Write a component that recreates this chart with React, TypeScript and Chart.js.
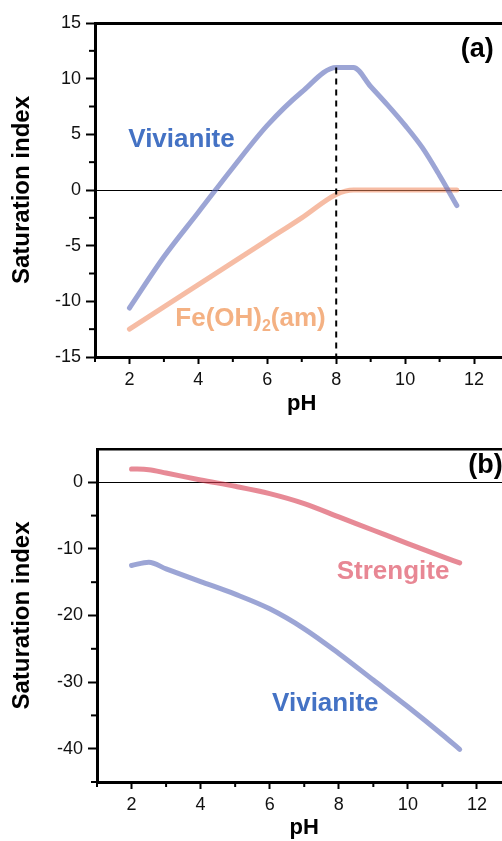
import React, { useEffect, useRef } from 'react';
import { Chart, registerables } from 'chart.js';

Chart.register(...registerables);

// ---------- data ----------
// Panel (a)
const phA = [2, 3, 4, 5, 6, 7, 8, 8.5, 9, 9.5, 10, 10.5, 11, 11.5];
const vivianiteA = [-10.6, -6.0, -2.0, 2.0, 5.8, 8.8, 11.0, 11.0, 9.3, 7.6, 5.8, 3.8, 1.3, -1.4];
const feOH2A = [-12.5, -10.5, -8.5, -6.5, -4.5, -2.5, -0.4, 0, 0, 0, 0, 0, 0, 0];
const dashX = [8, 8];
const dashY = [11, -15];

// Panel (b)
const phB = [2, 2.5, 3, 4, 5, 6, 7, 8, 9, 10, 11, 11.5];
const strengiteB = [2.0, 1.9, 1.4, 0.35, -0.6, -1.7, -3.2, -5.2, -7.2, -9.2, -11.15, -12.1];
const vivianiteB = [-12.5, -12.0, -13.0, -14.9, -16.8, -19.0, -22.0, -25.7, -29.7, -33.7, -37.9, -40.1];

// Ticks
const xTicks = [2, 4, 6, 8, 10, 12];
const xMinor = [1, 3, 5, 7, 9, 11];
const yTicksA = [-15, -10, -5, 0, 5, 10, 15];
const yMinorA = [-12.5, -7.5, -2.5, 2.5, 7.5, 12.5];
const yTicksB = [0, -10, -20, -30, -40];
const yMinorB = [-45, -35, -25, -15, -5];

// ---------- styles ----------
const FONT = "'Liberation Sans', Arial, sans-serif";
const C_VIV_LINE = 'rgba(90,105,185,0.6)';
const C_FE_LINE = 'rgba(239,133,90,0.55)';
const C_STR_LINE = 'rgba(215,60,80,0.6)';
const C_VIV_TEXT = 'rgb(68,114,196)';
const C_FE_TEXT = 'rgb(244,177,131)';
const C_STR_TEXT = 'rgb(232,135,148)';

const CANVAS_W = 530;

type Part = { t: string; sub?: boolean };
type Label = { x: number; y: number; parts: Part[]; color: string; size: number; align: 'left' | 'center' };

function pts(xs: number[], ys: number[]) {
  return xs.map((x, i) => ({ x, y: ys[i] }));
}

function lineDs(label: string, xs: number[], ys: number[], color: string) {
  return {
    label,
    data: pts(xs, ys),
    borderColor: color,
    backgroundColor: color,
    borderWidth: 5,
    pointRadius: 0,
    cubicInterpolationMode: 'monotone' as const,
    borderCapStyle: 'round' as const,
    borderJoinStyle: 'round' as const,
    fill: false,
  };
}

function makePlugins(xMinorV: number[], yMinorV: number[], labels: Label[]) {
  return [
    {
      id: 'minorTicks',
      afterDraw(chart: any) {
        const { ctx } = chart;
        const xs = chart.scales.x;
        const ys = chart.scales.y;
        ctx.save();
        ctx.strokeStyle = '#000';
        ctx.lineWidth = 2;
        xMinorV.forEach((v) => {
          const px = xs.getPixelForValue(v);
          ctx.beginPath();
          ctx.moveTo(px, xs.top);
          ctx.lineTo(px, xs.top + 5);
          ctx.stroke();
        });
        yMinorV.forEach((v) => {
          const py = ys.getPixelForValue(v);
          ctx.beginPath();
          ctx.moveTo(ys.right, py);
          ctx.lineTo(ys.right - 6, py);
          ctx.stroke();
        });
        ctx.restore();
      },
    },
    {
      id: 'textLabels',
      afterDatasetsDraw(chart: any) {
        const { ctx } = chart;
        const xs = chart.scales.x;
        const ys = chart.scales.y;
        ctx.save();
        labels.forEach((l) => {
          const px = xs.getPixelForValue(l.x);
          const py = ys.getPixelForValue(l.y);
          const subSize = Math.round(l.size * 0.62);
          let total = 0;
          l.parts.forEach((p) => {
            ctx.font = `bold ${p.sub ? subSize : l.size}px ${FONT}`;
            total += ctx.measureText(p.t).width;
          });
          let cx = l.align === 'center' ? px - total / 2 : px;
          ctx.fillStyle = l.color;
          ctx.textAlign = 'left';
          ctx.textBaseline = 'middle';
          l.parts.forEach((p) => {
            ctx.font = `bold ${p.sub ? subSize : l.size}px ${FONT}`;
            ctx.fillText(p.t, cx, p.sub ? py + l.size * 0.3 : py);
            cx += ctx.measureText(p.t).width;
          });
        });
        ctx.restore();
      },
    },
  ];
}

type PanelCfg = {
  datasets: any[];
  yMin: number;
  yMax: number;
  yTicks: number[];
  yMinor: number[];
  axisLeft: number;
  chartRight: number;
  padTop: number;
  xAxisHeight: number;
  titlePadBottom: number;
  topBorder: number;
  labels: Label[];
};

function buildChart(canvas: HTMLCanvasElement, cfg: PanelCfg) {
  return new Chart(canvas, {
    type: 'line',
    data: { datasets: cfg.datasets },
    plugins: makePlugins(xMinor, cfg.yMinor, cfg.labels) as any,
    options: {
      responsive: false,
      animation: false,
      devicePixelRatio: 1,
      events: [],
      layout: { padding: { top: cfg.padTop, left: 0, right: CANVAS_W - cfg.chartRight, bottom: 0 } },
      plugins: { legend: { display: false }, tooltip: { enabled: false } },
      scales: {
        x: {
          type: 'linear',
          position: 'bottom',
          min: 1,
          max: 13,
          afterBuildTicks: (s: any) => {
            s.ticks = xTicks.map((v) => ({ value: v }));
          },
          afterFit: (s: any) => {
            s.height = cfg.xAxisHeight;
          },
          grid: { drawOnChartArea: false, drawTicks: true, tickLength: 7, tickWidth: 2, tickColor: '#000' },
          border: { display: true, color: '#000', width: 3 },
          ticks: { color: '#111', font: { family: FONT, size: 18 }, padding: 5, maxRotation: 0, autoSkip: false },
          title: {
            display: true,
            text: 'pH',
            color: '#000',
            font: { family: FONT, size: 22, weight: 'bold' },
            padding: { top: 0, bottom: cfg.titlePadBottom },
          },
        },
        xTop: {
          type: 'linear',
          position: 'top',
          min: 1,
          max: 13,
          afterFit: (s: any) => {
            s.height = 0;
          },
          grid: { drawOnChartArea: false, drawTicks: false },
          border: { display: true, color: '#000', width: cfg.topBorder },
          ticks: { display: false },
        },
        y: {
          type: 'linear',
          position: 'left',
          min: cfg.yMin,
          max: cfg.yMax,
          afterBuildTicks: (s: any) => {
            s.ticks = cfg.yTicks.map((v) => ({ value: v }));
          },
          afterFit: (s: any) => {
            s.width = cfg.axisLeft;
          },
          grid: {
            drawOnChartArea: true,
            color: (c: any) => (c.tick && c.tick.value === 0 ? '#000' : 'rgba(0,0,0,0)'),
            lineWidth: 1,
            drawTicks: true,
            tickLength: 9,
            tickWidth: 2,
            tickColor: '#000',
          },
          border: { display: true, color: '#000', width: 3 },
          ticks: { color: '#111', font: { family: FONT, size: 18 }, padding: 5, autoSkip: false },
          title: {
            display: true,
            text: 'Saturation index',
            color: '#000',
            font: { family: FONT, size: 24, weight: 'bold' },
            padding: { top: 8, bottom: 0 },
          },
        },
      },
    } as any,
  });
}

export default function App() {
  const refA = useRef<HTMLCanvasElement>(null);
  const refB = useRef<HTMLCanvasElement>(null);

  useEffect(() => {
    const dashDs = {
      label: 'pH 8',
      data: pts(dashX, dashY),
      borderColor: '#000',
      borderWidth: 2,
      borderDash: [6, 5],
      pointRadius: 0,
      tension: 0,
      fill: false,
    };
    const chartA = buildChart(refA.current!, {
      datasets: [
        dashDs,
        lineDs('Vivianite', phA, vivianiteA, C_VIV_LINE),
        lineDs('Fe(OH)2(am)', phA, feOH2A, C_FE_LINE),
      ],
      yMin: -15,
      yMax: 15,
      yTicks: yTicksA,
      yMinor: yMinorA,
      axisLeft: 95,
      chartRight: 508.5,
      padTop: 23,
      xAxisHeight: 63,
      titlePadBottom: 3,
      topBorder: 3,
      labels: [
        { x: 3.51, y: 4.5, parts: [{ t: 'Vivianite' }], color: C_VIV_TEXT, size: 26, align: 'center' },
        {
          x: 3.33,
          y: -11.6,
          parts: [{ t: 'Fe(OH)' }, { t: '2', sub: true }, { t: '(am)' }],
          color: C_FE_TEXT,
          size: 26,
          align: 'left',
        },
        { x: 12.09, y: 12.66, parts: [{ t: '(a)' }], color: '#000', size: 27, align: 'center' },
      ],
    });
    const chartB = buildChart(refB.current!, {
      datasets: [
        lineDs('Strengite', phB, strengiteB, C_STR_LINE),
        lineDs('Vivianite', phB, vivianiteB, C_VIV_LINE),
      ],
      yMin: -45,
      yMax: 5,
      yTicks: yTicksB,
      yMinor: yMinorB,
      axisLeft: 97,
      chartRight: 511.5,
      padTop: 29,
      xAxisHeight: 59,
      titlePadBottom: 0,
      topBorder: 2.5,
      labels: [
        { x: 9.57, y: -13.5, parts: [{ t: 'Strengite' }], color: C_STR_TEXT, size: 26, align: 'center' },
        { x: 7.61, y: -33.2, parts: [{ t: 'Vivianite' }], color: C_VIV_TEXT, size: 26, align: 'center' },
        { x: 12.25, y: 2.5, parts: [{ t: '(b)' }], color: '#000', size: 27, align: 'center' },
      ],
    });
    return () => {
      chartA.destroy();
      chartB.destroy();
    };
  }, []);

  return (
    <div
      style={{
        position: 'absolute',
        left: 0,
        top: 0,
        width: 502,
        height: 841,
        overflow: 'hidden',
        background: '#fff',
      }}
    >
      <canvas
        ref={refA}
        width={CANVAS_W}
        height={420}
        style={{ position: 'absolute', left: 0, top: 0, width: CANVAS_W, height: 420 }}
      />
      <canvas
        ref={refB}
        width={CANVAS_W}
        height={421}
        style={{ position: 'absolute', left: 0, top: 420, width: CANVAS_W, height: 421 }}
      />
    </div>
  );
}
